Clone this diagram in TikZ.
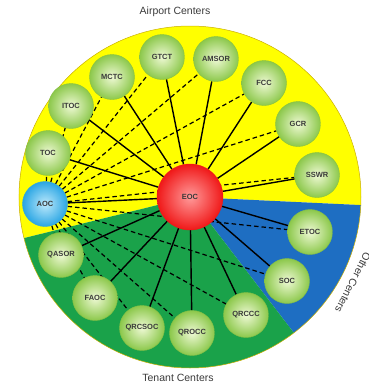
\documentclass[tikz,border=0pt]{standalone}
\usepackage{fontspec}
\setmainfont{Liberation Sans}
\usetikzlibrary{backgrounds}

\definecolor{wheelyellow}{HTML}{FFFF00}
\definecolor{wheelgreen}{HTML}{1AA24A}
\definecolor{wheelblue}{HTML}{1E6EC2}
\definecolor{rimline}{HTML}{C9AE00}
\definecolor{labelgray}{HTML}{3A3A3A}
\definecolor{ballpale}{HTML}{EEF9D4}
\definecolor{ballgreen}{HTML}{8CC84B}
\definecolor{ballrim}{HTML}{86BF45}
\definecolor{hubpale}{HTML}{FF9A9A}
\definecolor{hubred}{HTML}{F01818}
\definecolor{aocpale}{HTML}{BDE9FB}
\definecolor{aocblue}{HTML}{2AA6E4}

\begin{document}
\begin{tikzpicture}[x=1pt,y=-1pt,
    site/.style={circle,inner sep=0pt,minimum size=45pt,shading=radial,
      inner color=ballpale,outer color=ballgreen,draw=ballrim,line width=0.4pt,
      font=\fontsize{7.5}{8}\selectfont\bfseries,text=labelgray},
    hubball/.style={site,minimum size=66pt,inner color=hubpale,
      outer color=hubred,draw=hubred},
    aocball/.style={site,inner color=aocpale,outer color=aocblue,draw=aocblue},
    link/.style={line width=1.4pt},
    peerlink/.style={line width=1.2pt,dash pattern=on 4.5pt off 3pt},
    caption/.style={font=\fontsize{10.5}{12}\selectfont,text=labelgray}]
  \useasboundingbox (0,0) rectangle (369,389);

  % captions
  \node[caption] (airport) at (175,12) {Airport Centers};
  \node[caption] (tenant) at (178,378) {Tenant Centers};
  \node[caption,rotate=243] (other) at (353,283) {Other Centers};

  % hub
  \node[hubball] (EOC) at (190,197) {EOC};
  \node[aocball] (AOC) at (45,204) {AOC};

  % airport centers
  \node[site] (TOC) at (48,153) {TOC};
  \node[site] (ITOC) at (71,106) {ITOC};
  \node[site] (MCTC) at (112,77) {MCTC};
  \node[site] (GTCT) at (162,57) {GTCT};
  \node[site] (AMSOR) at (216,59) {AMSOR};
  \node[site] (FCC) at (264,83) {FCC};
  \node[site] (GCR) at (298,124) {GCR};
  \node[site] (SSWR) at (317,175) {SSWR};

  % other centers
  \node[site] (ETOC) at (310,232) {ETOC};
  \node[site] (SOC) at (287,281) {SOC};

  % tenant centers
  \node[site] (QRCCC) at (246,315) {QRCCC};
  \node[site] (QROCC) at (192,333) {QROCC};
  \node[site] (QRCSOC) at (142,328) {QRCSOC};
  \node[site] (FAOC) at (95,298) {FAOC};
  \node[site] (QASOR) at (61,255) {QASOR};

  \begin{pgfonlayer}{background}
    % sectors
    \fill[wheelyellow] (EOC.center) -- ++(166.1:171)
      arc[start angle=166.1,end angle=362.7,radius=171] -- cycle;
    \fill[wheelblue] (EOC.center) -- ++(2.7:171)
      arc[start angle=2.7,end angle=52.6,radius=171] -- cycle;
    \fill[wheelgreen] (EOC.center) -- ++(52.6:171)
      arc[start angle=52.6,end angle=166.1,radius=171] -- cycle;
    \draw[rimline,line width=0.5pt] (EOC.center) circle[radius=171];

    % AOC links
    \draw[peerlink] (AOC) -- (TOC);
    \draw[peerlink] (AOC) -- (ITOC);
    \draw[peerlink] (AOC) -- (MCTC);
    \draw[peerlink] (AOC) -- (GTCT);
    \draw[peerlink] (AOC) -- (AMSOR);
    \draw[peerlink] (AOC) -- (FCC);
    \draw[peerlink] (AOC) -- (GCR);
    \draw[peerlink] (AOC) -- (SSWR);
    \draw[peerlink] (AOC) -- (ETOC);
    \draw[peerlink] (AOC) -- (SOC);
    \draw[peerlink] (AOC) -- (QRCCC);
    \draw[peerlink] (AOC) -- (QROCC);
    \draw[peerlink] (AOC) -- (QRCSOC);
    \draw[peerlink] (AOC) -- (FAOC);
    \draw[peerlink] (AOC) -- (QASOR);

    % EOC links
    \draw[link] (EOC) -- (AOC);
    \draw[link] (EOC) -- (TOC);
    \draw[link] (EOC) -- (ITOC);
    \draw[link] (EOC) -- (MCTC);
    \draw[link] (EOC) -- (GTCT);
    \draw[link] (EOC) -- (AMSOR);
    \draw[link] (EOC) -- (FCC);
    \draw[link] (EOC) -- (GCR);
    \draw[link] (EOC) -- (SSWR);
    \draw[link] (EOC) -- (ETOC);
    \draw[link] (EOC) -- (SOC);
    \draw[link] (EOC) -- (QRCCC);
    \draw[link] (EOC) -- (QROCC);
    \draw[link] (EOC) -- (QRCSOC);
    \draw[link] (EOC) -- (FAOC);
    \draw[link] (EOC) -- (QASOR);
  \end{pgfonlayer}
\end{tikzpicture}
\end{document}
